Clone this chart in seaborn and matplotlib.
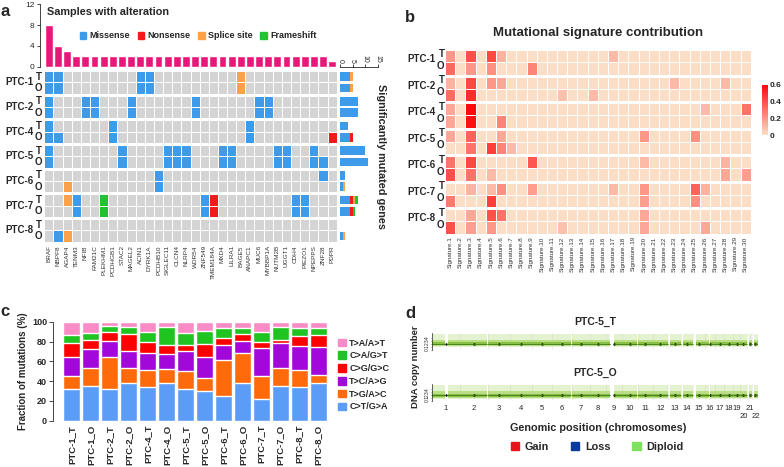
import numpy as np
import pandas as pd
import seaborn as sns
import matplotlib.pyplot as plt
from matplotlib.colors import ListedColormap, LinearSegmentedColormap
from matplotlib.patches import Patch

# ---------------- data ----------------
genes = ["BRAF", "NBPF8", "AGAP4", "TENM3", "NFIB", "FAM21C", "PLEKHM1", "PCDHGB1",
         "STAC2", "MAGEL2", "ACIN1", "DYRK1A", "PCDHB10", "SIGLEC11", "CLCN4", "NLRP4",
         "WDR54", "ZNF549", "TMEM184A", "MXD4", "LILRA1", "BAGE5", "ANAPC1", "MUC6",
         "MYBBP1A", "NUTM2B", "UGGT1", "CDH4", "PIEZO1", "NPEPPS", "ZNF28", "PDPR"]
patients = ["PTC-1", "PTC-2", "PTC-4", "PTC-5", "PTC-6", "PTC-7", "PTC-8"]
tissues = ["T", "O"]
mut_types = ["Missense", "Nonsense", "Splice site", "Frameshift"]

mut_ptc1_t = {"BRAF": "Missense", "NBPF8": "Missense", "ACIN1": "Missense",
              "DYRK1A": "Missense", "BAGE5": "Splice site"}
mut_ptc1_o = {"BRAF": "Missense", "NBPF8": "Missense", "ACIN1": "Missense",
              "DYRK1A": "Missense", "BAGE5": "Splice site"}
mut_ptc2_t = {"BRAF": "Missense", "NFIB": "Missense", "FAM21C": "Missense", "MAGEL2": "Missense",
              "WDR54": "Missense", "MUC6": "Missense", "MYBBP1A": "Missense"}
mut_ptc2_o = {"BRAF": "Missense", "NFIB": "Missense", "FAM21C": "Missense", "MAGEL2": "Missense",
              "WDR54": "Missense", "MUC6": "Missense", "MYBBP1A": "Missense"}
mut_ptc4_t = {"BRAF": "Missense", "PCDHGB1": "Missense", "ANAPC1": "Missense"}
mut_ptc4_o = {"BRAF": "Missense", "NBPF8": "Missense", "PCDHGB1": "Missense",
              "ANAPC1": "Missense", "PDPR": "Nonsense"}
mut_ptc5_t = {"BRAF": "Missense", "STAC2": "Missense", "SIGLEC11": "Missense", "CLCN4": "Missense",
              "NLRP4": "Missense", "MXD4": "Missense", "LILRA1": "Missense", "NUTM2B": "Missense",
              "UGGT1": "Missense", "NPEPPS": "Missense"}
mut_ptc5_o = {"BRAF": "Missense", "STAC2": "Missense", "SIGLEC11": "Missense", "CLCN4": "Missense",
              "NLRP4": "Missense", "MXD4": "Missense", "LILRA1": "Missense", "NUTM2B": "Missense",
              "UGGT1": "Missense", "NPEPPS": "Missense", "ZNF28": "Missense"}
mut_ptc6_t = {"PCDHB10": "Missense", "ZNF28": "Missense"}
mut_ptc6_o = {"AGAP4": "Splice site", "PCDHB10": "Missense"}
mut_ptc7_t = {"AGAP4": "Splice site", "TENM3": "Missense", "PLEKHM1": "Frameshift",
              "ZNF549": "Missense", "TMEM184A": "Nonsense", "CDH4": "Missense", "PIEZO1": "Missense"}
mut_ptc7_o = {"TENM3": "Missense", "PLEKHM1": "Frameshift", "ZNF549": "Missense",
              "TMEM184A": "Nonsense", "CDH4": "Missense", "PIEZO1": "Missense"}
mut_ptc8_t = {}
mut_ptc8_o = {"NBPF8": "Missense", "AGAP4": "Splice site"}

signatures = ["Signature.%d" % i for i in range(1, 31)]
sig_ptc1_t = {1: 0.20, 3: 0.40, 5: 0.42, 6: 0.12, 17: 0.10}
sig_ptc1_o = {1: 0.33, 3: 0.20, 5: 0.22, 9: 0.25}
sig_ptc2_t = {1: 0.12, 3: 0.42, 5: 0.20, 6: 0.15, 23: 0.10, 28: 0.10}
sig_ptc2_o = {1: 0.32, 3: 0.50, 12: 0.08, 15: 0.10}
sig_ptc4_t = {1: 0.15, 3: 0.60, 26: 0.10, 30: 0.30}
sig_ptc4_o = {1: 0.15, 3: 0.58, 6: 0.25}
sig_ptc5_t = {1: 0.15, 3: 0.35, 6: 0.15, 20: 0.20, 25: 0.22}
sig_ptc5_o = {3: 0.30, 5: 0.45, 6: 0.25, 7: 0.10}
sig_ptc6_t = {1: 0.30, 3: 0.42, 9: 0.38, 20: 0.10, 28: 0.12}
sig_ptc6_o = {1: 0.40, 3: 0.30, 5: 0.10, 28: 0.15, 30: 0.18}
sig_ptc7_t = {3: 0.12, 5: 0.10, 6: 0.22, 9: 0.18, 17: 0.10, 20: 0.20, 25: 0.35, 26: 0.12}
sig_ptc7_o = {1: 0.28, 5: 0.45, 20: 0.18, 25: 0.22}
sig_ptc8_t = {3: 0.15, 5: 0.40, 6: 0.30, 20: 0.15}
sig_ptc8_o = {1: 0.40, 3: 0.18, 5: 0.20, 12: 0.08, 20: 0.15, 26: 0.15}

samples_c = ["PTC-1_T", "PTC-1_O", "PTC-2_T", "PTC-2_O", "PTC-4_T", "PTC-4_O", "PTC-5_T",
             "PTC-5_O", "PTC-6_T", "PTC-6_O", "PTC-7_T", "PTC-7_O", "PTC-8_T", "PTC-8_O"]
spectrum_classes = ["C>T/G>A", "T>G/A>C", "T>C/A>G", "C>G/G>C", "C>A/G>T", "T>A/A>T"]
frac_ct = [31.6, 35.3, 31.6, 38.0, 34.3, 38.0, 31.6, 30.3, 25.2, 38.0, 21.8, 35.3, 33.6, 38.0]
frac_tg = [13.1, 17.5, 32.9, 15.4, 16.7, 14.4, 18.1, 13.1, 36.3, 30.2, 23.6, 18.1, 17.5, 7.7]
frac_tc = [19.8, 19.8, 15.8, 17.5, 16.9, 14.5, 20.2, 20.5, 14.8, 12.1, 27.9, 24.6, 24.2, 28.3]
frac_cg = [13.5, 9.1, 9.4, 16.8, 11.8, 9.7, 6.4, 13.7, 7.7, 7.4, 6.4, 3.7, 10.4, 12.7]
frac_ca = [8.7, 6.7, 5.8, 6.8, 9.8, 17.9, 12.2, 12.7, 9.5, 6.3, 10.0, 13.3, 7.8, 6.8]
frac_ta = [13.3, 11.6, 4.5, 5.5, 10.5, 5.5, 11.5, 9.7, 6.5, 6.0, 10.3, 5.0, 6.5, 6.5]

# hg19 autosome lengths and unmappable gaps (Mb)
chromosomes = [str(i) for i in range(1, 23)]
chrom_len_mb = [249.25, 243.20, 198.02, 191.15, 180.92, 171.12, 159.14, 146.36, 141.21, 135.53,
                135.01, 133.85, 115.17, 107.35, 102.53, 90.35, 81.20, 78.08, 59.13, 63.03, 48.13, 51.30]
gap_start_mb = [121.5, 0, 0, 0, 0, 0, 0, 0, 38.8, 0, 0, 0, 0, 0, 0, 35.3, 0, 0, 0, 0, 0, 0]
gap_end_mb = [142.6, 0, 0, 0, 0, 0, 0, 0, 71.0, 0, 0, 0, 19.0, 19.0, 20.0, 46.4, 0, 0, 0, 0, 14.3, 16.0]
cn_diploid = 2.0
cn_dense = (1.45, 2.55)
cn_mid = (1.1, 3.3)
cn_spread = (0.8, 5.5)

# ---------------- style ----------------
sns.set_style("white")
plt.rcParams['font.family'] = ['Liberation Sans', 'DejaVu Sans']

W, H = 784, 467
fig = plt.figure(figsize=(W / 100, H / 100), dpi=100)


def add_ax(left, top, right, bottom):
    return fig.add_axes([left / W, 1 - bottom / H, (right - left) / W, (bottom - top) / H])


def ftxt(x, y, s, **kw):
    kw.setdefault("ha", "center")
    kw.setdefault("va", "center")
    return fig.text(x / W, 1 - y / H, s, **kw)


gray = "#D4D4D4"
mut_colors = ["#3E9BEA", "#F21B1B", "#F9A24B", "#22C233"]
spec_colors = ["#5B9CF6", "#FF6A0A", "#A208DA", "#FF0000", "#20C420", "#F98CC6"]

mutations = [mut_ptc1_t, mut_ptc1_o, mut_ptc2_t, mut_ptc2_o, mut_ptc4_t, mut_ptc4_o,
             mut_ptc5_t, mut_ptc5_o, mut_ptc6_t, mut_ptc6_o, mut_ptc7_t, mut_ptc7_o,
             mut_ptc8_t, mut_ptc8_o]
codes = np.zeros((len(mutations), len(genes)))
for i, row in enumerate(mutations):
    for gname, t in row.items():
        codes[i, genes.index(gname)] = mut_types.index(t) + 1

# ---------------- panel a ----------------
grid_l, grid_r = 44.3, 336.7
grid_top, grid_pitch, grid_h = 71.0, 24.7, 22.5
pitch_a = (grid_r - grid_l) / len(genes)

ax_top = add_ax(40, 4.3, grid_r, 66.7)
counts = (codes > 0).sum(axis=0)
sns.barplot(x=genes, y=counts, color="#E8187A", saturation=1, width=0.86, ax=ax_top)
ax_top.set_xlim(-0.5 - (grid_l - 40) / pitch_a, len(genes) - 0.5)
ax_top.set_ylim(0, 12)
ax_top.set_yticks([0, 4, 8, 12])
ax_top.set_xticks([])
ax_top.tick_params(axis="y", length=2.5, width=0.6, labelsize=6, pad=1.5, left=True)
sns.despine(ax=ax_top, bottom=True)
ax_top.spines["left"].set_linewidth(0.6)
ftxt(47, 12, "Samples with alteration", ha="left", fontsize=7.8, fontweight="bold")
ax_top.legend(handles=[Patch(color=c, label=l) for c, l in zip(mut_colors, mut_types)],
              ncol=4, loc="center left", bbox_to_anchor=(75 / W, 1 - 36 / H),
              bbox_transform=fig.transFigure, frameon=False, borderpad=0,
              handlelength=0.75, handleheight=0.75, handletextpad=0.3, columnspacing=0.9,
              prop={"weight": "bold", "size": 6.5})

cmap_a = ListedColormap([gray] + mut_colors)
for g, p in enumerate(patients):
    top = grid_top + g * grid_pitch
    ax = add_ax(grid_l, top, grid_r, top + grid_h)
    sns.heatmap(codes[2 * g:2 * g + 2], ax=ax, cmap=cmap_a, vmin=-0.5, vmax=4.5, cbar=False,
                linewidths=0.55, linecolor="white", xticklabels=False, yticklabels=False)
    ftxt(34, top + grid_h / 2, p, ha="right", fontsize=7, fontweight="bold")
    for r, t in enumerate(tissues):
        ftxt(42, top + (r + 0.5) * grid_h / 2, t, ha="right", fontsize=7, fontweight="bold")
    if g == len(patients) - 1:
        ax.set_xticks(np.arange(len(genes)) + 0.5)
        ax.set_xticklabels(genes, rotation=90, fontsize=4.6, color="#333333")
        ax.tick_params(axis="x", length=0, pad=2.5)

ax_side = add_ax(340, 67, 378, grid_top + 6 * grid_pitch + grid_h)
ax_side.set_ylim(grid_top + 6 * grid_pitch + grid_h, 67)
ax_side.set_xlim(0, 15)
for i, row in enumerate(mutations):
    g, r = divmod(i, 2)
    yc = grid_top + g * grid_pitch + (r + 0.5) * grid_h / 2
    left = 0
    for t, c in zip(mut_types, mut_colors):
        n = sum(1 for v in row.values() if v == t)
        if n:
            ax_side.barh(yc, n, left=left, height=8.5, color=c, linewidth=0)
            left += n
ax_side.set_yticks([])
ax_side.xaxis.tick_top()
ax_side.set_xticks([0, 5, 10, 15])
ax_side.set_xticklabels(["0", "5", "10", "15"], rotation=-90, fontsize=5)
ax_side.tick_params(axis="x", length=2, width=0.6, pad=1, top=True)
for s in ["left", "right", "bottom"]:
    ax_side.spines[s].set_visible(False)
ax_side.spines["top"].set_linewidth(0.6)
ftxt(381, 157, "Significantly mutated genes", rotation=-90, fontsize=7.8, fontweight="bold")

# ---------------- panel b ----------------
sig_rows = [sig_ptc1_t, sig_ptc1_o, sig_ptc2_t, sig_ptc2_o, sig_ptc4_t, sig_ptc4_o,
            sig_ptc5_t, sig_ptc5_o, sig_ptc6_t, sig_ptc6_o, sig_ptc7_t, sig_ptc7_o,
            sig_ptc8_t, sig_ptc8_o]
sig_mat = np.zeros((len(sig_rows), len(signatures)))
for i, row in enumerate(sig_rows):
    for k, v in row.items():
        sig_mat[i, k - 1] = v

cmap_b = LinearSegmentedColormap.from_list("sig", ["#FCDDC6", "#FF0A0A"])
b_l, b_r = 445, 750.7
b_top, b_pitch, b_h = 50.0, 26.5, 24.5
cax = add_ax(761.7, 85, 768, 135)
for g, p in enumerate(patients):
    top = b_top + g * b_pitch
    ax = add_ax(b_l, top, b_r, top + b_h)
    sns.heatmap(sig_mat[2 * g:2 * g + 2], ax=ax, cmap=cmap_b, vmin=0, vmax=0.6,
                cbar=(g == 0), cbar_ax=cax if g == 0 else None,
                linewidths=0.55, linecolor="white", xticklabels=False, yticklabels=False)
    ftxt(436, top + b_h / 2 - 3, p, ha="right", fontsize=7, fontweight="bold")
    for r, t in enumerate(tissues):
        ftxt(444.5, top + (r + 0.5) * b_h / 2 - 2.5, t, ha="right", fontsize=7, fontweight="bold")
    if g == len(patients) - 1:
        ax.set_xticks(np.arange(len(signatures)) + 0.5)
        ax.set_xticklabels(signatures, rotation=90, fontsize=4.5, color="#333333")
        ax.tick_params(axis="x", length=0, pad=2)
cax.set_yticks([0, 0.2, 0.4, 0.6])
cax.set_yticklabels(["0", "0.2", "0.4", "0.6"], fontsize=6, fontweight="bold")
cax.tick_params(length=0, pad=1.5)
ftxt(598, 33, "Mutational signature contribution", fontsize=9.5, fontweight="bold")

# ---------------- panel c ----------------
ax_c = add_ax(53.3, 321.7, 326.7, 420.7)
fracs = np.array([frac_ct, frac_tg, frac_tc, frac_cg, frac_ca, frac_ta])
cum = np.cumsum(fracs, axis=0)
for k in reversed(range(len(spectrum_classes))):
    sns.barplot(x=samples_c, y=cum[k], color=spec_colors[k], saturation=1, width=0.88, ax=ax_c)
pitch_c = (326.7 - 63.3) / (len(samples_c) - 1 + 0.88)
ax_c.set_xlim(-0.44 - (63.3 - 53.3) / pitch_c, len(samples_c) - 1 + 0.44)
ax_c.set_ylim(0, 100)
ax_c.set_yticks([0, 20, 40, 60, 80, 100])
ax_c.set_yticklabels(["0", "20", "40", "60", "80", "100"], fontsize=6.5, fontweight="bold")
ax_c.set_xticks(range(len(samples_c)))
ax_c.set_xticklabels(samples_c, rotation=90, fontsize=6.8, fontweight="bold")
ax_c.tick_params(axis="x", length=0, pad=3)
ax_c.tick_params(axis="y", length=3, width=0.6, pad=1.5, left=True)
ax_c.set_ylabel("Fraction of mutations (%)", fontsize=7, fontweight="bold", labelpad=3)
sns.despine(ax=ax_c, bottom=True)
ax_c.spines["left"].set_linewidth(0.6)
ax_c.legend(handles=[Patch(color=c, label=l) for c, l in
                     zip(spec_colors[::-1], spectrum_classes[::-1])],
            loc="upper left", bbox_to_anchor=(333 / W, 1 - 334 / H), bbox_transform=fig.transFigure,
            frameon=False, borderpad=0, handlelength=0.9, handleheight=0.9, handletextpad=0.4,
            labelspacing=0.42, prop={"weight": "bold", "size": 6.5})

# ---------------- panel d ----------------
offsets = np.concatenate([[0], np.cumsum(chrom_len_mb)[:-1]])
mids = offsets + np.array(chrom_len_mb) / 2
total = sum(chrom_len_mb)
tracks = [("PTC-5_T", 333, 349.5), ("PTC-5_O", 384, 401)]
for ti, (name, t0, t1) in enumerate(tracks):
    ax = add_ax(431.7, t0, 758.3, t1)
    for c in range(len(chromosomes)):
        start, end = offsets[c], offsets[c] + chrom_len_mb[c]
        pieces = [(start, end)]
        if gap_end_mb[c] > 0:
            pieces = [(start, start + gap_start_mb[c]), (start + gap_end_mb[c], end)]
        for a0, a1 in pieces:
            if a1 - a0 <= 0:
                continue
            xs = [a0 + 0.8, a1 - 0.8]
            ax.fill_between(xs, cn_spread[0], cn_spread[1], color="#E4F2CF", lw=0)
            ax.fill_between(xs, cn_mid[0], cn_mid[1], color="#B9DE86", lw=0)
            ax.fill_between(xs, cn_dense[0], cn_dense[1], color="#88C141", lw=0)
            ax.plot(xs, [cn_diploid, cn_diploid], color="#3F7A16", lw=0.6)
        ax.axvline(end, color="#BBBBBB", lw=0.4, ls=":")
    sns.scatterplot(x=mids, y=[cn_diploid] * len(mids), color="black", s=3, linewidth=0, ax=ax)
    ax.set_xlim(0, total)
    ax.set_ylim(0, 5.8)
    ax.set_yticks([0, 1, 2, 3, 4])
    ax.set_yticklabels(["0", "1", "2", "3", "4"], rotation=90, fontsize=3.5, va="center")
    ax.tick_params(axis="y", length=1, width=0.4, pad=0.5, left=True)
    for s in ["top", "right", "bottom"]:
        ax.spines[s].set_visible(False)
    ax.spines["left"].set_linewidth(0.5)
    if ti == 1:
        ax.set_xticks(mids)
        ax.set_xticklabels(chromosomes, fontsize=5.5)
        ax.tick_params(axis="x", length=0, pad=3)
        for tick, ch in zip(ax.xaxis.get_major_ticks(), chromosomes):
            if ch in ("20", "22"):
                tick.set_pad(9)
    else:
        ax.set_xticks([])
    ftxt(595, t0 - 11.5, name, fontsize=7.5, fontweight="bold")

ftxt(416, 367, "DNA copy number", rotation=90, fontsize=6.8, fontweight="bold")
ftxt(598, 427.7, "Genomic position (chromosomes)", fontsize=7.8, fontweight="bold")
fig.legend(handles=[Patch(color="#E8141B", label="Gain"), Patch(color="#0B3A9E", label="Loss"),
                    Patch(color="#80E060", label="Diploid")],
           ncol=3, loc="center", bbox_to_anchor=(597 / W, 1 - 446.7 / H), frameon=False,
           borderpad=0, handlelength=0.8, handleheight=0.8, handletextpad=0.5, columnspacing=2.0,
           prop={"weight": "bold", "size": 7.8})

# panel letters
ftxt(5, 11, "a", fontsize=12, fontweight="bold")
ftxt(410, 17, "b", fontsize=12, fontweight="bold")
ftxt(5, 312, "c", fontsize=12, fontweight="bold")
ftxt(410, 313, "d", fontsize=12, fontweight="bold")

fig.savefig("out.png", dpi=100)
